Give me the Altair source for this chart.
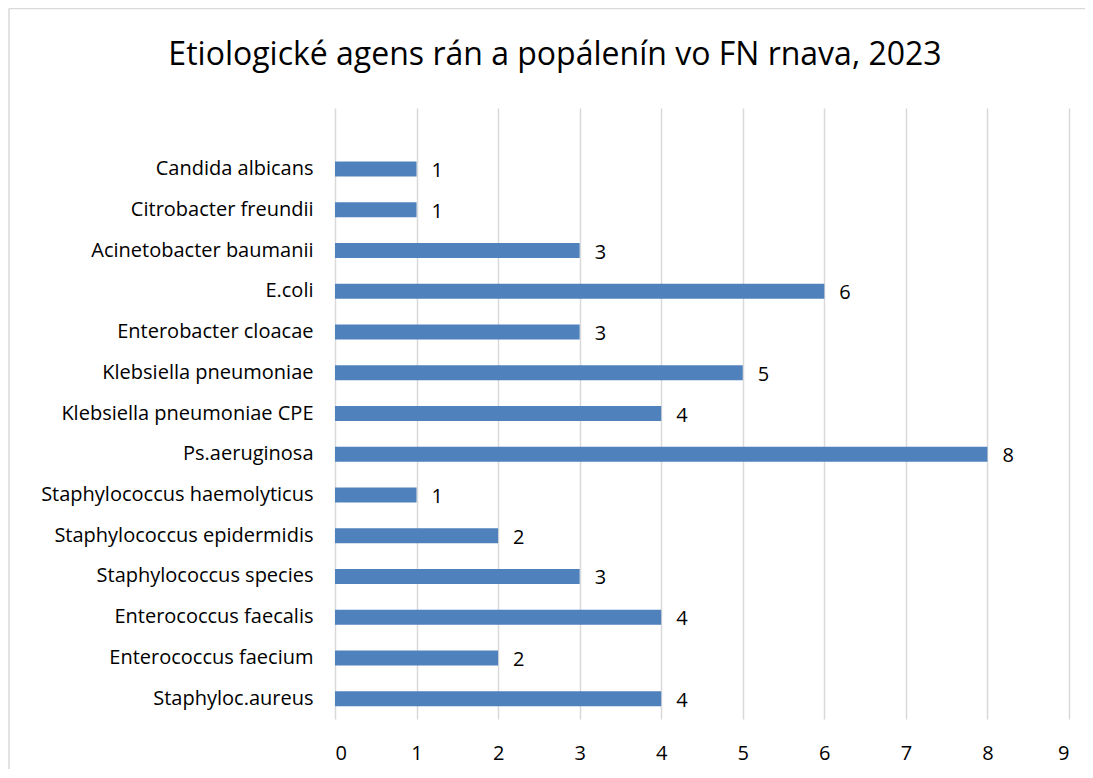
import altair as alt
import pandas as pd

categories = [
    "Candida albicans",
    "Citrobacter freundii",
    "Acinetobacter baumanii",
    "E.coli",
    "Enterobacter cloacae",
    "Klebsiella pneumoniae",
    "Klebsiella pneumoniae CPE",
    "Ps.aeruginosa",
    "Staphylococcus haemolyticus",
    "Staphylococcus epidermidis",
    "Staphylococcus species",
    "Enterococcus faecalis",
    "Enterococcus faecium",
    "Staphyloc.aureus",
]
values = [1, 1, 3, 6, 3, 5, 4, 8, 1, 2, 3, 4, 2, 4]
x_ticks = list(range(0, 10))

df = pd.DataFrame({"agens": categories, "pocet": values})
domain = [" "] + categories

FONT = "Open Sans"

y_enc = alt.Y(
    "agens:N",
    sort=domain,
    scale=alt.Scale(domain=domain, paddingInner=0, paddingOuter=0),
    axis=alt.Axis(
        title=None, domain=False, ticks=False, labelPadding=22,
        labelFontSize=20, labelColor="#000000", labelFont=FONT,
        labelLimit=400,
    ),
)
x_enc = alt.X(
    "pocet:Q",
    scale=alt.Scale(domain=[0, 9], nice=False),
    axis=alt.Axis(
        title=None, values=x_ticks, domain=False, ticks=False,
        grid=True, gridColor="#d9d9d9", gridWidth=1.5,
        labelPadding=24, labelFontSize=20, labelColor="#000000",
        labelFont=FONT, format="d",
    ),
)

bars = alt.Chart(df).mark_bar(size=15, color="#4f81bd").encode(x=x_enc, y=y_enc)
labels = alt.Chart(df).mark_text(
    align="left", dx=15, dy=2, fontSize=20, font=FONT, color="#000000"
).encode(x="pocet:Q", y=alt.Y("agens:N", sort=domain), text="pocet:Q")

border_top = alt.Chart(pd.DataFrame({"k": [0]})).mark_rule(
    color="#d9d9d9", strokeWidth=1.5
).encode(x=alt.value(-326), x2=alt.value(760), y=alt.value(-99.5))
border_left = alt.Chart(pd.DataFrame({"k": [0]})).mark_rule(
    color="#d9d9d9", strokeWidth=1.5
).encode(x=alt.value(-326), y=alt.value(-99.5), y2=alt.value(672))

chart = (
    alt.layer(border_top, border_left, bars, labels)
    .properties(
        width=734,
        height=611,
        autosize=alt.AutoSizeParams(type="none"),
        padding={"left": 327, "top": 100, "right": 16, "bottom": 50},
        title=alt.TitleParams(
            "Etiologické agens rán a popálenín vo FN rnava, 2023",
            fontSize=32, font=FONT, fontWeight="normal", color="#000000",
            anchor="middle", frame="group", dx=-147, offset=-64,
        ),
    )
    .configure_view(stroke=None)
)

chart.save("out.html", embed_options={"renderer": "svg", "actions": False})
